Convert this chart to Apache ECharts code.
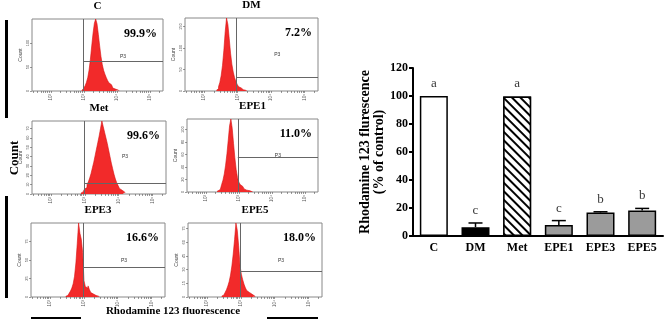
<!DOCTYPE html>
<html>
<head>
<meta charset="utf-8">
<style>
  html, body { margin: 0; padding: 0; background: #fff; }
  #chart { width: 669px; height: 327px; }
</style>
<script src="https://cdn.jsdelivr.net/npm/echarts@6/dist/echarts.min.js"></script>
</head>
<body>
<div id="chart"></div>
<script>
// flow cytometry panels: log10 fluorescence bins (step 0.04), counts
const panelNames = ['C', 'DM', 'Met', 'EPE1', 'EPE3', 'EPE5']
const gatedPct = ['99.9%', '7.2%', '99.6%', '11.0%', '16.6%', '18.0%']
const binStep = 0.04
const binStart = [2.94, 2.37, 2.88, 2.34, 2.46, 2.43]
const countsC = [1, 3, 6, 11, 18, 28, 44, 66, 94, 120, 141, 150, 140, 118, 94, 72, 55, 43, 35, 28, 22, 17, 13, 9, 6, 4, 3, 2, 1, 0]
const countsDM = [2, 5, 10, 20, 36, 60, 95, 138, 170, 155, 122, 88, 62, 44, 31, 22, 15, 10, 7, 4, 3, 2, 1, 0]
const countsMet = [1, 2, 3, 5, 7, 10, 13, 17, 22, 28, 34, 41, 48, 55, 62, 70, 78, 72, 66, 60, 54, 47, 40, 33, 27, 21, 16, 12, 9, 6, 4, 3, 2, 1]
const countsEPE1 = [1, 2, 4, 7, 12, 19, 29, 43, 61, 83, 106, 117, 102, 78, 55, 36, 23, 16, 12, 9, 7, 5, 4, 3, 2, 2, 1, 0]
const countsEPE3 = [1, 2, 3, 5, 8, 12, 18, 28, 46, 72, 100, 86, 78, 60, 22, 14, 12, 15, 10, 6, 4, 3, 2, 1, 1, 0]
const countsEPE5 = [1, 2, 3, 5, 8, 12, 17, 24, 34, 47, 63, 81, 73, 56, 35, 25, 19, 14, 10, 7, 5, 4, 3, 2, 1, 0]
const histCounts = [countsC, countsDM, countsMet, countsEPE1, countsEPE3, countsEPE5]
const countMax = [150, 170, 78, 117, 100, 81]
const countInterval = [50, 50, 10, 20, 25, 15]
const gateX = [2.98, 2.97, 2.97, 2.97, 2.97, 2.97]
const gateY = [63, 31, 11, 56, 40, 28]
const p3Y = [71, 84, 40, 59, 49, 40]
const logMin = 1.43
const logMax = 5.4
const logTicks = [2, 3, 4, 5]
const logTickLabels = ['10²', '10³', '10⁴', '10⁵']

// bar chart
const groups = ['C', 'DM', 'Met', 'EPE1', 'EPE3', 'EPE5']
const rhodamine = [100, 6.3, 99.6, 7.8, 16.8, 18.3]
const sem = [0, 3.0, 0, 3.2, 0.5, 1.4]
const letters = ['a', 'c', 'a', 'c', 'b', 'b']

const serif = 'Liberation Serif'
const panelBox = [
  [32, 19, 131, 72], [185, 18, 133, 73],
  [32, 121, 134, 73], [187, 119, 131, 73],
  [31, 223, 134, 74], [188, 223, 134, 74]
]

// minor ticks of the log axis
const minorLog = []
for (let d = 1; d < 6; d++) {
  for (let k = 1; k < 10; k++) {
    const v = d + Math.log10(k)
    if (v > logMin && v < logMax) minorLog.push(v)
  }
}

const grids = panelBox.map(b => ({
  left: b[0], top: b[1], width: b[2], height: b[3],
  show: true, borderColor: '#888', borderWidth: 1
}))
grids.push({ left: 413, right: 6, top: 68, bottom: 91 })

const xAxes = panelBox.map((b, i) => ({
  gridIndex: i,
  type: 'value',
  min: logMin,
  max: logMax,
  axisLine: { show: false },
  splitLine: { show: false },
  axisTick: { customValues: minorLog, length: 2, lineStyle: { color: '#555', width: 0.6 } },
  axisLabel: {
    customValues: logTicks,
    formatter: v => logTickLabels[logTicks.indexOf(Math.round(v))],
    fontSize: 4.5, color: '#555', margin: 3, rotate: 90
  }
}))
xAxes.push({
  gridIndex: 6,
  type: 'category',
  data: groups,
  axisLine: { lineStyle: { color: '#000', width: 2 } },
  axisTick: { alignWithLabel: true, length: 4, lineStyle: { color: '#000', width: 2 } },
  axisLabel: { color: '#000', fontFamily: serif, fontWeight: 'bold', fontSize: 12, margin: 6 }
})

const yAxes = panelBox.map((b, i) => ({
  gridIndex: i,
  type: 'value',
  min: 0,
  max: countMax[i],
  interval: countInterval[i],
  axisLine: { show: false },
  splitLine: { show: false },
  axisTick: { show: true, length: 2, lineStyle: { color: '#555', width: 0.6 } },
  axisLabel: { fontSize: 4, color: '#555', margin: 2, rotate: 90, showMaxLabel: false },
  name: 'Count',
  nameLocation: 'middle',
  nameRotate: 90,
  nameGap: 9,
  nameTextStyle: { fontSize: 5, color: '#444' }
}))
yAxes.push({
  gridIndex: 6,
  type: 'value',
  min: 0,
  max: 120,
  interval: 20,
  axisLine: { show: true, lineStyle: { color: '#000', width: 2 } },
  axisTick: { show: true, length: 4, lineStyle: { color: '#000', width: 2 } },
  splitLine: { show: false },
  axisLabel: { color: '#000', fontFamily: serif, fontWeight: 'bold', fontSize: 12, margin: 5 },
  name: 'Rhodamine 123 flurescence\n(% of control)',
  nameLocation: 'middle',
  nameRotate: 90,
  nameGap: 25,
  nameTextStyle: { color: '#000', fontFamily: serif, fontWeight: 'bold', fontSize: 14, lineHeight: 14 }
})

const histSeries = histCounts.map((counts, i) => ({
  type: 'line',
  xAxisIndex: i,
  yAxisIndex: i,
  symbol: 'none',
  step: 'middle',
  lineStyle: { color: '#d81010', width: 0.6 },
  areaStyle: { color: '#f22a2a', opacity: 1 },
  data: counts.map((c, j) => [binStart[i] + j * binStep, c]),
  markLine: {
    silent: true,
    symbol: 'none',
    label: { show: false },
    lineStyle: { color: '#666', width: 1, type: 'solid' },
    data: [
      [{ coord: [gateX[i], 0] }, { coord: [gateX[i], countMax[i]] }],
      [{ coord: [gateX[i], gateY[i]] }, { coord: [logMax, gateY[i]] }]
    ]
  },
  markPoint: {
    silent: true,
    symbol: 'circle',
    symbolSize: 1,
    itemStyle: { color: 'rgba(0,0,0,0)' },
    label: { show: true, formatter: 'P3', fontSize: 5, color: '#333', position: 'inside' },
    data: [{ coord: [(gateX[i] + logMax) / 2, p3Y[i]] }]
  }
}))

const barColors = ['#fff', '#000', '#fff', '#9b9b9b', '#9b9b9b', '#9b9b9b']
const hatch = {
  symbol: 'rect',
  symbolSize: 1,
  dashArrayX: [1, 0],
  dashArrayY: [1.7, 3.3],
  rotation: Math.PI / 4,
  color: '#000',
  backgroundColor: '#fff'
}

const option = {
  animation: false,
  backgroundColor: '#fff',
  grid: grids,
  xAxis: xAxes,
  yAxis: yAxes,
  series: histSeries.concat([
    {
      type: 'bar',
      xAxisIndex: 6,
      yAxisIndex: 6,
      barWidth: 28,
      data: rhodamine.map((v, i) => ({
        value: v,
        itemStyle: {
          color: barColors[i],
          borderColor: '#000',
          borderWidth: 1.5,
          decal: groups[i] === 'Met' ? hatch : null
        }
      }))
    },
    {
      type: 'custom',
      xAxisIndex: 6,
      yAxisIndex: 6,
      data: rhodamine.map((v, i) => [i, v, sem[i]]),
      renderItem: (params, api) => {
        const e = api.value(2)
        if (!e) return
        const base = api.coord([api.value(0), api.value(1)])
        const top = api.coord([api.value(0), api.value(1) + e])
        const hw = 7
        return {
          type: 'group',
          children: [
            { type: 'line', shape: { x1: base[0], y1: base[1], x2: top[0], y2: top[1] }, style: { stroke: '#000', lineWidth: 1.5 } },
            { type: 'line', shape: { x1: top[0] - hw, y1: top[1], x2: top[0] + hw, y2: top[1] }, style: { stroke: '#000', lineWidth: 1.5 } }
          ]
        }
      }
    },
    {
      type: 'scatter',
      xAxisIndex: 6,
      yAxisIndex: 6,
      symbolSize: 0,
      data: rhodamine.map((v, i) => [i, v + sem[i]]),
      label: {
        show: true,
        position: 'top',
        distance: 6,
        formatter: p => letters[p.dataIndex],
        fontFamily: serif,
        fontSize: 13,
        color: '#000'
      }
    }
  ]),
  graphic: [
    // panel titles
    ...panelNames.map((n, i) => ({
      type: 'text',
      x: panelBox[i][0] + panelBox[i][2] / 2,
      y: panelBox[i][1] - 13,
      style: { text: n, font: 'bold 11px "Liberation Serif"', fill: '#000', align: 'center', verticalAlign: 'middle' }
    })),
    // gated percentages
    ...gatedPct.map((t, i) => ({
      type: 'text',
      x: panelBox[i][0] + panelBox[i][2] - 6,
      y: panelBox[i][1] + 15,
      style: { text: t, font: 'bold 12px "Liberation Serif"', fill: '#000', align: 'right', verticalAlign: 'middle' }
    })),
    {
      type: 'text', x: 15, y: 158, rotation: Math.PI / 2,
      style: { text: 'Count', font: 'bold 13px "Liberation Serif"', fill: '#000', align: 'center', verticalAlign: 'middle' }
    },
    { type: 'rect', shape: { x: 5, y: 20, width: 3, height: 98 }, style: { fill: '#000' } },
    { type: 'rect', shape: { x: 5, y: 196, width: 3, height: 102 }, style: { fill: '#000' } },
    {
      type: 'text', x: 173, y: 311,
      style: { text: 'Rhodamine 123 fluorescence', font: 'bold 11px "Liberation Serif"', fill: '#000', align: 'center', verticalAlign: 'middle' }
    },
    { type: 'rect', shape: { x: 31, y: 317, width: 50, height: 2 }, style: { fill: '#000' } },
    { type: 'rect', shape: { x: 267, y: 317, width: 51, height: 2 }, style: { fill: '#000' } }
  ]
}

const chart = echarts.init(document.getElementById('chart'))
chart.setOption(option)
</script>
</body>
</html>
